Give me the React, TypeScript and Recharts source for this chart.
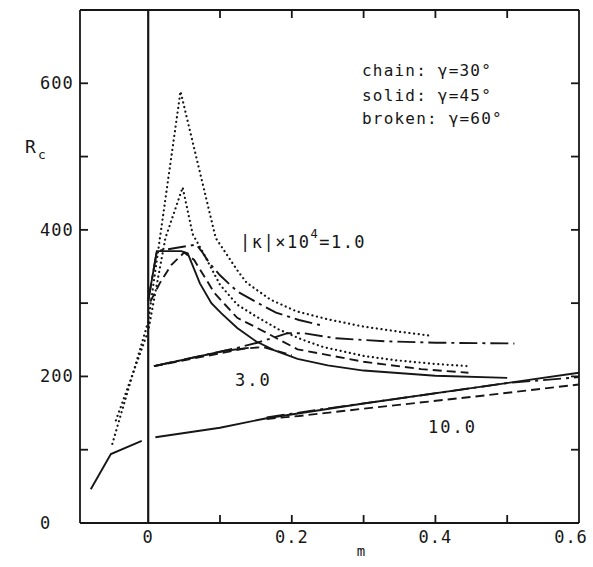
import React from "react";
import { LineChart, Line, XAxis, YAxis, ReferenceLine } from "recharts";

const W = 593;
const H = 567;
const INK = "#161616";
const FONT = "'DejaVu Sans Mono', 'Liberation Mono', monospace";

// axes
const mTicks = [0, 0.1, 0.2, 0.3, 0.4, 0.5, 0.6];
const mTickLabels = ["0", "", "0.2", "", "0.4", "", "0.6"];
const rTicks = [0, 100, 200, 300, 400, 500, 600, 700];
const rTickLabels = ["0", "", "200", "", "400", "", "600", ""];

// |k| x 10^4 = 10.0
const k10LeftM = [-0.08, -0.052, -0.009];
const k10LeftR = [46, 94, 112];
const k10SolidM = [0.01, 0.1, 0.165, 0.3, 0.45, 0.6];
const k10SolidR = [117, 130, 143, 163, 184, 205];
const k10ChainM = [0.165, 0.24, 0.35, 0.5, 0.6];
const k10ChainR = [144, 155, 170, 191, 199];
const k10BrokenM = [0.165, 0.21, 0.3, 0.45, 0.6];
const k10BrokenR = [142, 146, 156, 172, 189];

// |k| x 10^4 = 3.0
const k3SolidM = [0.008, 0.107, 0.14];
const k3SolidR = [214, 235, 239];
const k3ChainM = [0.008, 0.124, 0.152, 0.194, 0.216, 0.262, 0.33, 0.4, 0.51];
const k3ChainR = [214, 239, 246, 259, 259, 252, 248, 246, 245];
const k3BrokenM = [0.008, 0.134, 0.16, 0.2];
const k3BrokenR = [214, 238, 240, 229];

// |k| x 10^4 = 1.0
const k1SolidM = [0, 0.012, 0.046, 0.055, 0.072, 0.088, 0.102, 0.124, 0.15, 0.175, 0.208, 0.25, 0.3, 0.4, 0.5];
const k1SolidR = [303, 371, 371, 368, 327, 300, 286, 266, 248, 236, 224, 215, 208, 201, 198];
const k1ChainM = [0, 0.012, 0.067, 0.075, 0.085, 0.1, 0.124, 0.155, 0.178, 0.21, 0.244];
const k1ChainR = [303, 371, 380, 370, 355, 338, 316, 299, 287, 277, 269];
const k1BrokenM = [0.003, 0.016, 0.032, 0.05, 0.064, 0.084, 0.092, 0.124, 0.152, 0.208, 0.3, 0.38, 0.446];
const k1BrokenR = [302, 327, 352, 369, 359, 327, 314, 280, 266, 237, 220, 210, 205];
const dotAM = [-0.05, 0, 0.045, 0.094, 0.124, 0.137, 0.17, 0.206, 0.25, 0.3, 0.35, 0.39];
const dotAR = [108, 275, 589, 389, 345, 328, 305, 289, 278, 268, 261, 256];
const dotBM = [-0.045, 0, 0.024, 0.048, 0.062, 0.077, 0.1, 0.124, 0.15, 0.182, 0.215, 0.244, 0.3, 0.345, 0.4, 0.446];
const dotBR = [140, 262, 389, 458, 394, 368, 325, 298, 282, 264, 250, 240, 228, 222, 217, 214];

const zip = (m: number[], r: number[]) => m.map((v, i) => ({ m: v, r: r[i] }));

const CHAIN = "18 5 3 5";
const BROKEN = "9 5";
const DOTTED = "0.1 4.6";

const curves = [
  { id: "k10l", data: zip(k10LeftM, k10LeftR), dash: undefined },
  { id: "k10s", data: zip(k10SolidM, k10SolidR), dash: undefined },
  { id: "k10c", data: zip(k10ChainM, k10ChainR), dash: CHAIN },
  { id: "k10b", data: zip(k10BrokenM, k10BrokenR), dash: BROKEN },
  { id: "k3s", data: zip(k3SolidM, k3SolidR), dash: undefined },
  { id: "k3c", data: zip(k3ChainM, k3ChainR), dash: CHAIN },
  { id: "k3b", data: zip(k3BrokenM, k3BrokenR), dash: BROKEN },
  { id: "k1s", data: zip(k1SolidM, k1SolidR), dash: undefined },
  { id: "k1c", data: zip(k1ChainM, k1ChainR), dash: CHAIN },
  { id: "k1b", data: zip(k1BrokenM, k1BrokenR), dash: BROKEN },
  { id: "dA", data: zip(dotAM, dotAR), dash: DOTTED },
  { id: "dB", data: zip(dotBM, dotBR), dash: DOTTED },
];

const TICK = 8;
const txt = { fontFamily: FONT, fill: INK };

const BottomTick = (p: any) => {
  const i = mTicks.indexOf(p.payload.value);
  const inner = i > 0 && i < mTicks.length - 1;
  // last label sits a little inside so it is not clipped at the page edge
  const lx = i === mTicks.length - 1 ? p.x - 8 : p.x;
  return (
    <g>
      {inner && <line x1={p.x} x2={p.x} y1={p.y} y2={p.y - TICK} stroke={INK} strokeWidth={1.8} />}
      <text x={lx} y={p.y + 14} textAnchor="middle" dominantBaseline="central" fontSize={17} letterSpacing={1} {...txt}>
        {mTickLabels[i]}
      </text>
    </g>
  );
};

const TopTick = (p: any) => {
  const i = mTicks.indexOf(p.payload.value);
  if (i <= 0 || i >= mTicks.length - 1) return <g />;
  return <line x1={p.x} x2={p.x} y1={p.y} y2={p.y + TICK} stroke={INK} strokeWidth={1.8} />;
};

const LeftTick = (p: any) => {
  const i = rTicks.indexOf(p.payload.value);
  const inner = i > 0 && i < rTicks.length - 1;
  return (
    <g>
      {inner && <line x1={p.x} x2={p.x + TICK} y1={p.y} y2={p.y} stroke={INK} strokeWidth={1.8} />}
      <text x={40} y={p.y} textAnchor="start" dominantBaseline="central" fontSize={17} letterSpacing={1} {...txt}>
        {rTickLabels[i]}
      </text>
    </g>
  );
};

const RightTick = (p: any) => {
  const i = rTicks.indexOf(p.payload.value);
  if (i <= 0 || i >= rTicks.length - 1) return <g />;
  return <line x1={p.x} x2={p.x - TICK} y1={p.y} y2={p.y} stroke={INK} strokeWidth={1.8} />;
};

const frame = { stroke: INK, strokeWidth: 1.8 };

export default function App() {
  return (
    <div style={{ position: "absolute", left: 0, top: 0, width: W, height: H, background: "#fff" }}>
      <LineChart width={W} height={H} margin={{ top: 0, right: 0, bottom: 0, left: 0 }}>
        <XAxis xAxisId="b" type="number" dataKey="m" orientation="bottom" domain={[-0.095, 0.6]} ticks={mTicks}
          interval={0} height={44} allowDataOverflow axisLine={frame} tickLine={false} tickSize={0} tickMargin={0}
          tick={(p: any) => <BottomTick {...p} />} />
        <XAxis xAxisId="t" type="number" dataKey="m" orientation="top" domain={[-0.095, 0.6]} ticks={mTicks}
          interval={0} height={10} allowDataOverflow axisLine={frame} tickLine={false} tickSize={0} tickMargin={0}
          tick={(p: any) => <TopTick {...p} />} />
        <YAxis yAxisId="l" type="number" dataKey="r" domain={[0, 700]} ticks={rTicks} interval={0} width={80}
          allowDataOverflow axisLine={frame} tickLine={false} tickSize={0} tickMargin={0}
          tick={(p: any) => <LeftTick {...p} />} />
        <YAxis yAxisId="rt" orientation="right" type="number" dataKey="r" domain={[0, 700]} ticks={rTicks} interval={0}
          width={14} allowDataOverflow axisLine={frame} tickLine={false} tickSize={0} tickMargin={0}
          tick={(p: any) => <RightTick {...p} />} />
        <ReferenceLine xAxisId="b" yAxisId="l" x={0} stroke={INK} strokeWidth={2.2} />
        {curves.map((c) => (
          <Line key={c.id} xAxisId="b" yAxisId="l" data={c.data} dataKey="r" type="linear" dot={false}
            activeDot={false} isAnimationActive={false} stroke={INK} strokeWidth={c.dash === DOTTED ? 2.2 : 1.9}
            strokeDasharray={c.dash} strokeLinecap={c.dash === DOTTED ? "round" : "butt"} />
        ))}
      </LineChart>
      <svg width={W} height={H} style={{ position: "absolute", left: 0, top: 0, pointerEvents: "none" }}>
        <g fontSize={16} letterSpacing={1.2} {...txt} dominantBaseline="central">
          <text x={362} y={70}>chain: γ=30°</text>
          <text x={362} y={95}>solid: γ=45°</text>
          <text x={362} y={118}>broken: γ=60°</text>
        </g>
        <text x={240} y={242} fontSize={17} letterSpacing={1.5} dominantBaseline="central" {...txt}>
          <tspan>|κ|×10</tspan>
          <tspan dy={-8} fontSize={12}>4</tspan>
          <tspan dy={8}>=1.0</tspan>
        </text>
        <text x={235} y={380} fontSize={17} letterSpacing={2} dominantBaseline="central" {...txt}>3.0</text>
        <text x={428} y={427} fontSize={17} letterSpacing={2} dominantBaseline="central" {...txt}>10.0</text>
        <text x={361} y={551} fontSize={14} textAnchor="middle" dominantBaseline="central" {...txt}>m</text>
        <text x={25} y={146} fontSize={18} dominantBaseline="central" {...txt}>R</text>
        <text x={38} y={154} fontSize={13} dominantBaseline="central" {...txt}>c</text>
      </svg>
    </div>
  );
}
